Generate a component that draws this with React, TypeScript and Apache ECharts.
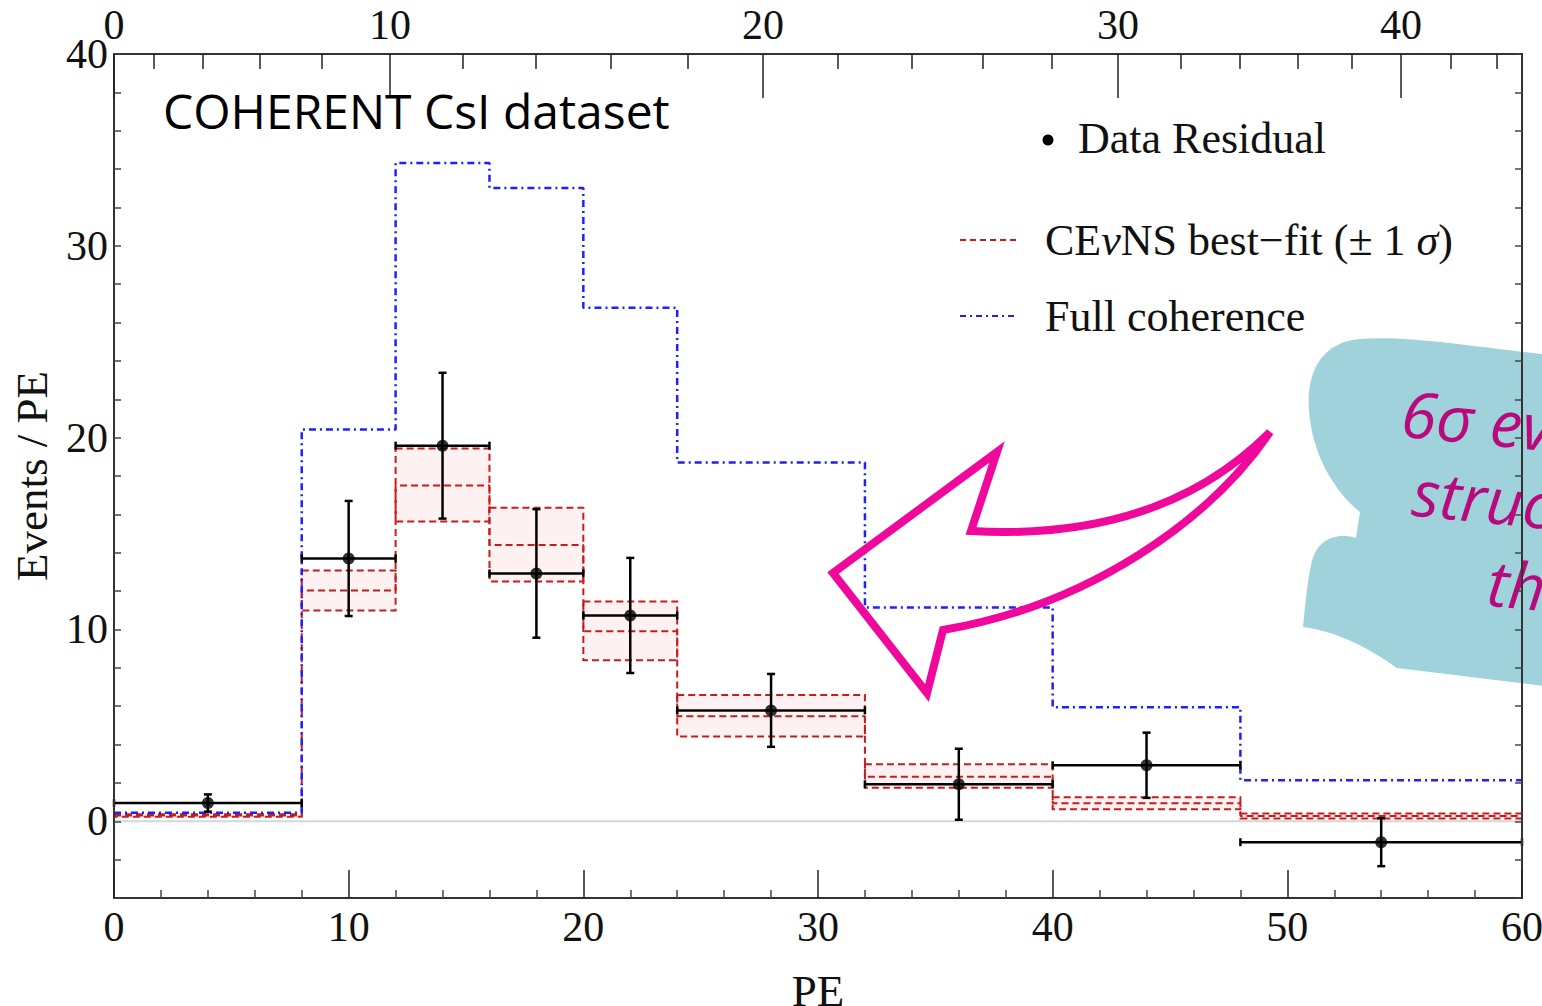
import React, { useEffect, useRef } from "react";
import * as echarts from "echarts";

// ---------------- data ----------------
const binEdges = [0, 8, 12, 16, 20, 24, 32, 40, 48, 60];
const dataCenters = [4, 10, 14, 18, 22, 28, 36, 44, 54];
const dataValues = [0.95, 13.7, 19.58, 12.92, 10.73, 5.78, 1.93, 2.92, -1.09];
const dataErrors = [0.45, 3.0, 3.8, 3.35, 3.0, 1.9, 1.85, 1.7, 1.25];
const fitCentral = [0.3, 12.03, 17.5, 14.4, 9.9, 5.47, 2.32, 0.94, 0.27];
const fitUpper = [0.36, 13.07, 19.43, 16.35, 11.46, 6.58, 2.97, 1.25, 0.4];
const fitLower = [0.24, 10.99, 15.63, 12.5, 8.39, 4.42, 1.75, 0.63, 0.15];
const fullCoherence = [0.45, 20.42, 34.32, 33.02, 26.77, 18.7, 11.15, 5.94, 2.14];
const yLabelTicks = [0, 10, 20, 30, 40];
const topMajorLabels = ["0", "10", "20", "30", "40"];
const topMajorPE = [0, 11.76, 27.66, 42.78, 54.84];
const topMinorPE = [1.7, 3.79, 6.22, 8.86, 14.87, 17.98, 21.18, 24.46, 30.85, 34.01, 37.03, 39.97, 45.47, 47.98, 50.45, 52.76, 56.97, 58.93];
const calloutLines = ["6σ evidence of", "structure in", "the data"];

const RED = "#c81c1c";
const BLUE = "#1f1fff";
const SERIF = "'Liberation Serif', 'DejaVu Serif', serif";
const SANS = "'Open Sans', 'Noto Sans', sans-serif";

const CLOUD_D =
  "M 1360 339 C 1322 342 1306 372 1309 410 C 1312 455 1335 492 1360 512 L 1356 538 " +
  "C 1335 532 1316 540 1311 565 C 1306 590 1305 610 1303 627 C 1340 632 1372 650 1397 668 " +
  "L 1560 688 L 1560 356 C 1480 348 1410 335 1360 339 Z";
const ARROW_D =
  "M 833 573 L 997 452 L 971 531 Q 1160 542 1270 432 C 1210 520 1090 605 943 630 L 927 693 Z";

echarts.graphic.registerShape("calloutCloud", echarts.graphic.extendPath(CLOUD_D, {}));
echarts.graphic.registerShape("calloutArrow", echarts.graphic.extendPath(ARROW_D, {}));

const stepData = (vals: number[]) =>
  vals.map((v, i) => [binEdges[i], v]).concat([[binEdges[binEdges.length - 1], vals[vals.length - 1]]]);

export default function App() {
  const ref = useRef<HTMLDivElement>(null);
  useEffect(() => {
    if (!ref.current) return;
    const chart = echarts.init(ref.current, undefined, { renderer: "svg" });
    const axisLineStyle = { color: "#333", width: 2 };
    const labelBase = { fontFamily: SERIF, fontSize: 42, color: "#111" };
    const option: any = {
      animation: false,
      backgroundColor: "#fff",
      grid: { left: 114, right: 20, top: 54, bottom: 108, containLabel: false, outerBoundsMode: "none" },
      xAxis: [
        {
          type: "value", position: "bottom", min: 0, max: 60, interval: 10, z: 10,
          axisLine: { show: true, onZero: false, lineStyle: axisLineStyle },
          axisTick: { show: true, inside: true, length: 28, lineStyle: { color: "#222", width: 1.5 } },
          minorTick: { show: true, splitNumber: 5, length: 8, lineStyle: { color: "#444", width: 1.5 } },
          axisLabel: { ...labelBase, margin: 8 },
          splitLine: { show: false },
          name: "PE", nameLocation: "middle", nameGap: 70,
          nameTextStyle: { ...labelBase, fontSize: 45 },
        },
        {
          type: "value", position: "top", min: 0, max: 60, z: 10,
          axisLine: { show: true, onZero: false, lineStyle: axisLineStyle },
          axisTick: { show: true, inside: true, length: 44, customValues: topMajorPE, lineStyle: { color: "#222", width: 1.5 } },
          axisLabel: {
            ...labelBase, margin: 8, customValues: topMajorPE,
            formatter: (v: number) => {
              const i = topMajorPE.findIndex((p) => Math.abs(p - v) < 1e-6);
              return i >= 0 ? topMajorLabels[i] : "";
            },
          },
          splitLine: { show: false },
        },
        {
          type: "value", position: "top", min: 0, max: 60, z: 10,
          axisLine: { show: false, onZero: false },
          axisTick: { show: true, inside: true, length: 15, customValues: topMinorPE, lineStyle: { color: "#222", width: 1.5 } },
          axisLabel: { show: false },
          splitLine: { show: false },
        },
      ],
      yAxis: [
        {
          type: "value", position: "left", min: -4, max: 40, interval: 2, z: 10,
          axisLine: { show: true, onZero: false, lineStyle: axisLineStyle },
          axisTick: { show: true, inside: true, length: 7, lineStyle: { color: "#444", width: 1.5 } },
          axisLabel: { ...labelBase, margin: 6, formatter: (v: number) => (yLabelTicks.includes(v) ? String(v) : "") },
          splitLine: { show: false },
          name: "Events / PE", nameLocation: "middle", nameGap: 60, nameRotate: 90,
          nameTextStyle: { ...labelBase, fontSize: 45 },
        },
        {
          type: "value", position: "right", min: -4, max: 40, interval: 2, z: 10,
          axisLine: { show: true, onZero: false, lineStyle: axisLineStyle },
          axisTick: { show: true, inside: true, length: 7, lineStyle: { color: "#444", width: 1.5 } },
          axisLabel: { show: false },
          splitLine: { show: false },
        },
      ],
      series: [
        {
          type: "line", name: "zero", data: [[0, 0], [60, 0]], symbol: "none", silent: true, z: 1,
          lineStyle: { color: "#d6d6d6", width: 2 },
        },
        {
          type: "custom", name: "band", z: 3,
          data: fitLower.map((lo, i) => [binEdges[i], binEdges[i + 1], lo, fitUpper[i]]),
          encode: { x: [0, 1], y: [2, 3] },
          renderItem: (params: any, api: any) => {
            const a = api.coord([api.value(0), api.value(3)]);
            const b = api.coord([api.value(1), api.value(2)]);
            return {
              type: "rect",
              shape: { x: a[0], y: a[1], width: b[0] - a[0], height: b[1] - a[1] },
              style: { fill: "#fef1f1", stroke: RED, lineWidth: 2, lineDash: [7, 4] },
            };
          },
        },
        {
          type: "line", name: "CEvNS", data: stepData(fitCentral), step: "end", symbol: "none", z: 4,
          lineStyle: { color: RED, width: 2, type: [7, 4] },
        },
        {
          type: "line", name: "Full coherence", data: stepData(fullCoherence), step: "end", symbol: "none", z: 4,
          lineStyle: { color: BLUE, width: 2.5, type: [7, 4, 2, 4] },
        },
        {
          type: "custom", name: "errors", z: 6,
          data: dataCenters.map((c, i) => [c, dataValues[i], dataErrors[i], binEdges[i], binEdges[i + 1]]),
          encode: { x: 0, y: 1 },
          renderItem: (params: any, api: any) => {
            const c = api.value(0), v = api.value(1), e = api.value(2), x0 = api.value(3), x1 = api.value(4);
            const pl = api.coord([x0, v]);
            const pr = api.coord([x1, v]);
            const pt = api.coord([c, v + e]);
            const pb = api.coord([c, v - e]);
            const st = { stroke: "#000", lineWidth: 2.5 };
            const cap = 4;
            const ln = (x1_: number, y1_: number, x2_: number, y2_: number) => ({
              type: "line", shape: { x1: x1_, y1: y1_, x2: x2_, y2: y2_ }, style: st,
            });
            return {
              type: "group",
              children: [
                ln(pl[0], pl[1], pr[0], pr[1]),
                ln(pl[0], pl[1] - cap, pl[0], pl[1] + cap),
                ln(pr[0], pr[1] - cap, pr[0], pr[1] + cap),
                ln(pt[0], pt[1], pb[0], pb[1]),
                ln(pt[0] - cap, pt[1], pt[0] + cap, pt[1]),
                ln(pb[0] - cap, pb[1], pb[0] + cap, pb[1]),
              ],
            };
          },
        },
        {
          type: "scatter", name: "Data Residual", z: 7, symbol: "circle", symbolSize: 12,
          data: dataCenters.map((c, i) => [c, dataValues[i]]),
          itemStyle: { color: "#000" },
        },
      ],
      graphic: [
        {
          type: "text", x: 163, y: 110, z: 20,
          style: { text: "COHERENT CsI dataset", font: `48px ${SANS}`, fill: "#000", align: "left", verticalAlign: "middle", textAlign: "left", textVerticalAlign: "middle" },
        },
        { type: "circle", shape: { cx: 1048, cy: 140, r: 5.5 }, style: { fill: "#000" }, z: 20 },
        {
          type: "text", x: 1078, y: 138, z: 20,
          style: { text: "Data Residual", font: `44px ${SERIF}`, fill: "#111", align: "left", verticalAlign: "middle", textAlign: "left", textVerticalAlign: "middle" },
        },
        { type: "line", shape: { x1: 960, y1: 240, x2: 1018, y2: 240 }, style: { stroke: RED, lineWidth: 2, lineDash: [6, 4] }, z: 20 },
        {
          type: "text", x: 1045, y: 240, z: 20,
          style: {
            text: "CE{i|ν}NS best−fit (± 1 {i|σ})",
            font: `44px ${SERIF}`, fill: "#111", align: "left", verticalAlign: "middle", textAlign: "left", textVerticalAlign: "middle",
            rich: { i: { fontFamily: SERIF, fontSize: 44, fontStyle: "italic", fill: "#111", color: "#111" } },
          },
        },
        { type: "line", shape: { x1: 960, y1: 316, x2: 1018, y2: 316 }, style: { stroke: BLUE, lineWidth: 2, lineDash: [6, 4, 2, 4] }, z: 20 },
        {
          type: "text", x: 1045, y: 316, z: 20,
          style: { text: "Full coherence", font: `44px ${SERIF}`, fill: "#111", align: "left", verticalAlign: "middle", textAlign: "left", textVerticalAlign: "middle" },
        },
        { type: "calloutCloud", x: 0, y: 0, z: 5, style: { fill: "#9fd2db", stroke: "none" } },
        {
          type: "text", x: 1402, y: 412, rotation: -0.1, z: 6,
          style: { text: calloutLines[0], font: `italic 64px ${SANS}`, fill: "#b80a7c", align: "left", verticalAlign: "middle", textAlign: "left", textVerticalAlign: "middle" },
        },
        {
          type: "text", x: 1413, y: 491, rotation: -0.1, z: 6,
          style: { text: calloutLines[1], font: `italic 64px ${SANS}`, fill: "#b80a7c", align: "left", verticalAlign: "middle", textAlign: "left", textVerticalAlign: "middle" },
        },
        {
          type: "text", x: 1488, y: 581, rotation: -0.1, z: 6,
          style: { text: calloutLines[2], font: `italic 64px ${SANS}`, fill: "#b80a7c", align: "left", verticalAlign: "middle", textAlign: "left", textVerticalAlign: "middle" },
        },
        { type: "calloutArrow", x: 0, y: 0, z: 20, style: { fill: "none", stroke: "#f0079b", lineWidth: 8, lineJoin: "miter" } },
      ],
    };
    chart.setOption(option);
    return () => chart.dispose();
  }, []);
  return (
    <div
      ref={ref}
      style={{ position: "fixed", left: 0, top: 0, width: 1542, height: 1006, background: "#fff" }}
    />
  );
}
